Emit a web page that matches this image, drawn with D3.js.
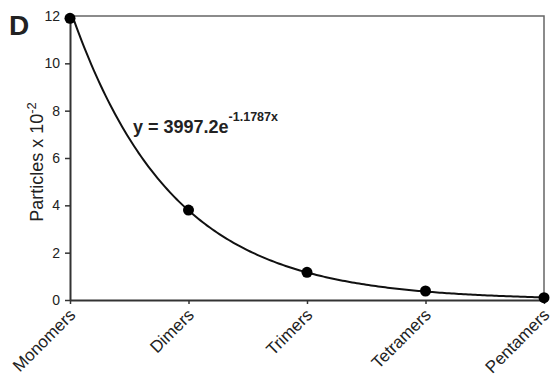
<!DOCTYPE html>
<html>
<head>
<meta charset="utf-8">
<script src="https://cdn.jsdelivr.net/npm/d3@7"></script>
<style>
  body { margin: 0; background: #fff; }
  text { font-family: "Liberation Sans", Arial, sans-serif; fill: #222; }
</style>
</head>
<body>
<div id="chart"></div>
<script>
// data
const categories = ["Monomers", "Dimers", "Trimers", "Tetramers", "Pentamers"];
const particles = [11.9, 3.8, 1.17, 0.38, 0.1];
const yTicks = [0, 2, 4, 6, 8, 10, 12];
// exponential trendline shown on the chart: y = 3997.2 e^(-1.1787x), plotted in units of 10^2
const fitA = 3997.2 / 100;
const fitK = -1.1787;

const width = 555, height = 377;
const margin = { top: 16, right: 11, bottom: 77, left: 70 };

const svg = d3.select("#chart").append("svg")
  .attr("width", width)
  .attr("height", height);

const x = d3.scalePoint()
  .domain(categories)
  .range([margin.left, width - margin.right]);

const y = d3.scaleLinear()
  .domain([0, 12])
  .range([height - margin.bottom, margin.top]);

// frame (top and right)
svg.append("path")
  .attr("d", `M${margin.left},${margin.top}H${width - margin.right}V${height - margin.bottom}`)
  .attr("fill", "none")
  .attr("stroke", "#666")
  .attr("stroke-width", 1.5);

// y axis
const yAxis = svg.append("g")
  .attr("transform", `translate(${margin.left},0)`)
  .call(d3.axisLeft(y).tickValues(yTicks).tickSize(5).tickSizeOuter(0).tickPadding(5));
yAxis.select(".domain").attr("stroke", "#333").attr("stroke-width", 2);
yAxis.selectAll(".tick line").attr("stroke", "#333").attr("stroke-width", 1.5);
yAxis.selectAll(".tick text").attr("font-size", 14).attr("fill", "#222");

// x axis
const xAxis = svg.append("g")
  .attr("transform", `translate(0,${height - margin.bottom})`)
  .call(d3.axisBottom(x).tickSize(4).tickSizeOuter(0));
xAxis.select(".domain").attr("stroke", "#333").attr("stroke-width", 2);
xAxis.selectAll(".tick line").attr("stroke", "#333").attr("stroke-width", 1.5);
xAxis.selectAll(".tick text")
  .attr("font-size", 17)
  .attr("fill", "#222")
  .attr("text-anchor", "end")
  .attr("dy", null)
  .attr("y", 0)
  .attr("transform", "translate(6,16) rotate(-45)");

// trendline (from the equation on the chart), clipped to plot area
svg.append("clipPath").attr("id", "clip")
  .append("rect")
  .attr("x", margin.left).attr("y", margin.top)
  .attr("width", width - margin.left - margin.right)
  .attr("height", height - margin.top - margin.bottom);

const curveX = d3.range(1, 5.0001, 0.02);
const xi = d3.scaleLinear().domain([1, 5]).range([margin.left, width - margin.right]);
svg.append("path")
  .datum(curveX)
  .attr("clip-path", "url(#clip)")
  .attr("fill", "none")
  .attr("stroke", "#111")
  .attr("stroke-width", 2)
  .attr("d", d3.line().x(d => xi(d)).y(d => y(fitA * Math.exp(fitK * d))));

// points
svg.append("g")
  .selectAll("circle")
  .data(particles)
  .join("circle")
  .attr("cx", (d, i) => x(categories[i]))
  .attr("cy", d => y(d))
  .attr("r", 5.5)
  .attr("fill", "#000");

// equation label
const eq = svg.append("text")
  .attr("x", 133)
  .attr("y", 133)
  .attr("font-size", 18)
  .attr("font-weight", "bold")
  .attr("fill", "#111");
eq.append("tspan").text("y = 3997.2e");
eq.append("tspan").attr("font-size", 12.5).attr("dy", -12).text("-1.1787x");

// y axis title
const yt = svg.append("text")
  .attr("transform", "translate(43,162) rotate(-90)")
  .attr("text-anchor", "middle")
  .attr("font-size", 18);
yt.append("tspan").text("Particles x 10");
yt.append("tspan").attr("font-size", 13).attr("dy", -7).text("-2");

// panel letter
svg.append("text")
  .attr("x", 9)
  .attr("y", 35)
  .attr("font-size", 28)
  .attr("font-weight", "bold")
  .attr("fill", "#000")
  .text("D");
</script>
</body>
</html>
